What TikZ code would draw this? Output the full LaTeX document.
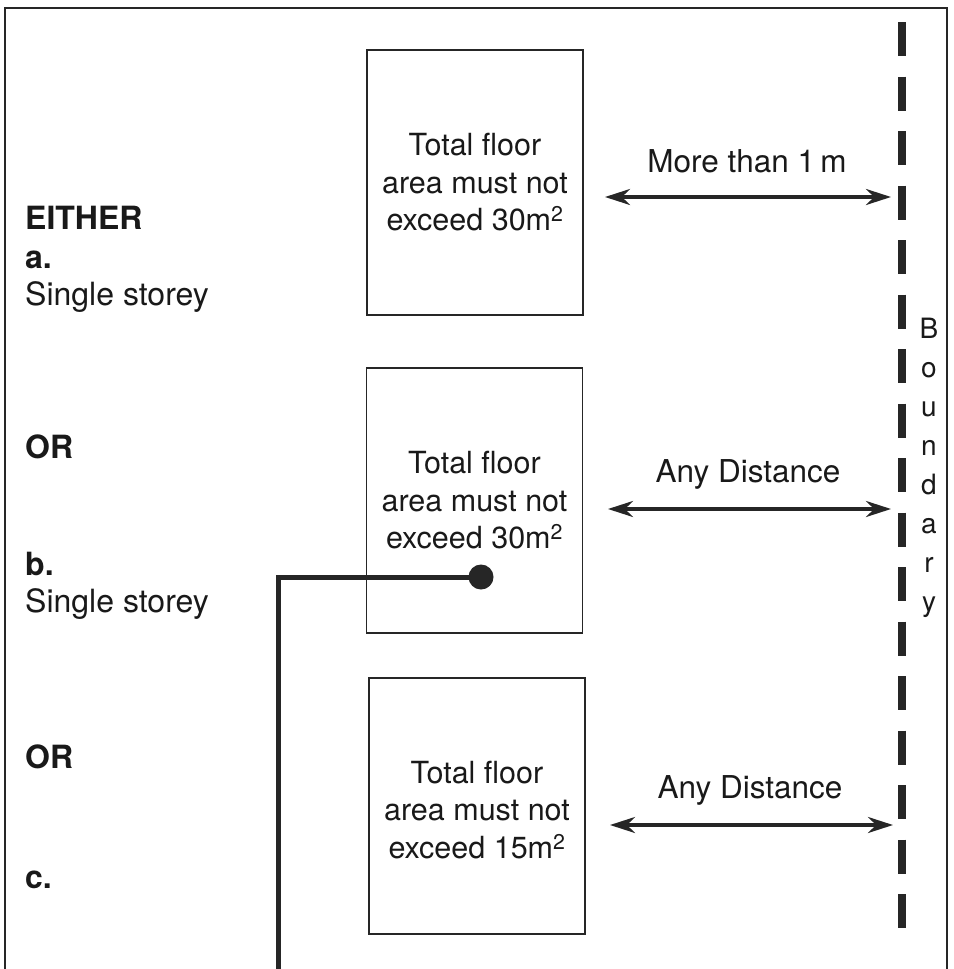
\documentclass[tikz,border=0pt]{standalone}
\usepackage{fontspec}
\setmainfont{TeX Gyre Heros}
\usetikzlibrary{arrows.meta}
\begin{document}
\begin{tikzpicture}[x=1pt,y=-1pt,
  plan/.style={draw=black!85,line width=1.6pt,minimum width=216pt,inner sep=0pt,
    align=center,font=\fontsize{30.5}{37.5}\selectfont,text=black!90},
  side/.style={anchor=base west,inner sep=0pt,font=\fontsize{32}{36}\selectfont,text=black!90},
  sidebold/.style={side,font=\fontsize{32}{36}\selectfont\bfseries},
  gap/.style={draw=black!85,line width=3.5pt,{Stealth[length=25pt,width=16pt]}-{Stealth[length=25pt,width=16pt]}},
  gaplabel/.style={inner sep=0pt,font=\fontsize{31.5}{36}\selectfont,text=black!90},
  pipe/.style={draw=black!85,line width=5pt}]
\useasboundingbox (0,0) rectangle (953,969);
\fill[white] (0,0) rectangle (953,969);

% outer frame, open at the bottom
\draw[black!85,line width=2pt] (5,969) -- (5,8) -- (947,8) -- (947,969);

% boundary line and its vertical label
\coordinate (btop) at (902,22);
\coordinate (bbot) at (902,930);
\draw[black!85,line width=8pt,dash pattern=on 34pt off 20.5pt] (btop) -- (bbot);
\node[inner sep=0pt,align=center,font=\fontsize{28}{39}\selectfont,text=black!90] (blabel) at (929,468)
  {B\\o\\u\\n\\d\\a\\r\\y};

% the three buildings
\node[plan,minimum height=265pt] (b1) at (475,182.5)
  {Total floor\\area must not\\exceed 30m\textsuperscript{2}};
\node[plan,minimum height=265pt] (b2) at (474.5,500.5)
  {Total floor\\area must not\\exceed 30m\textsuperscript{2}};
\node[plan,minimum height=256pt] (b3) at (477,806)
  {\\[-8pt]Total floor\\area must not\\exceed 15m\textsuperscript{2}};

% distances to the boundary
\coordinate (a1l) at (605,197);  \coordinate (a1r) at (891,197);
\coordinate (a2l) at (608,509);  \coordinate (a2r) at (891,509);
\coordinate (a3l) at (610,825);  \coordinate (a3r) at (893,825);
\draw[gap] (a1l) -- (a1r);
\draw[gap] (a2l) -- (a2r);
\draw[gap] (a3l) -- (a3r);
\node[gaplabel] (l1) at (747,161) {More than 1\,m};
\node[gaplabel] (l2) at (748,474) {Any Distance};
\node[gaplabel] (l3) at (750,790) {Any Distance};

% left-hand conditions
\node[sidebold] (either) at (25,229) {EITHER};
\node[sidebold] (ca) at (25,268) {a.};
\node[side] (sa) at (25,305) {Single storey};
\node[sidebold] (or1) at (25,458) {OR};
\node[sidebold] (cb) at (25,575) {b.};
\node[side] (sb) at (25,612) {Single storey};
\node[sidebold] (or2) at (25,768) {OR};
\node[sidebold] (cc) at (25,888) {c.};

% pointer line with its dot
\node[circle,fill=black!85,minimum size=25pt,inner sep=0pt] (dot) at (481,577) {};
\coordinate (bend) at (278,577);
\coordinate (pend) at (278,969);
\draw[pipe] (dot.center) -- (bend) -- (pend);
\end{tikzpicture}
\end{document}
